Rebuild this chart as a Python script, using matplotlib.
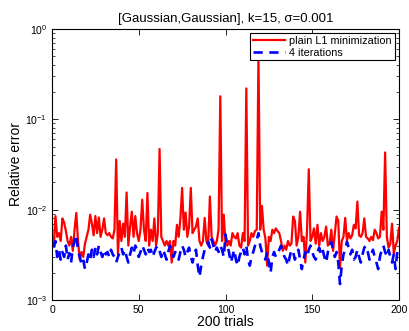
import matplotlib
matplotlib.use("Agg")
import matplotlib.pyplot as plt
import numpy as np

trials = list(range(1, 201))

plain_l1 = [
    0.0040, 0.0085, 0.0050, 0.0055, 0.0045, 0.0080, 0.0072, 0.0058, 0.0045, 0.0040,
    0.0050, 0.0035, 0.0060, 0.0092, 0.0045, 0.0028, 0.0034, 0.0030, 0.0042, 0.0050,
    0.0060, 0.0088, 0.0070, 0.0052, 0.0085, 0.0055, 0.0082, 0.0050, 0.0060, 0.0080,
    0.0055, 0.0052, 0.0055, 0.0050, 0.0048, 0.0060, 0.0360, 0.0032, 0.0075, 0.0045,
    0.0070, 0.0050, 0.0155, 0.0040, 0.0065, 0.0095, 0.0050, 0.0085, 0.0055, 0.0045,
    0.0060, 0.0129, 0.0060, 0.0045, 0.0153, 0.0040, 0.0060, 0.0045, 0.0080, 0.0040,
    0.0055, 0.0470, 0.0050, 0.0045, 0.0040, 0.0045, 0.0040, 0.0045, 0.0026, 0.0045,
    0.0040, 0.0068, 0.0050, 0.0080, 0.0174, 0.0060, 0.0093, 0.0050, 0.0065, 0.0174,
    0.0055, 0.0060, 0.0065, 0.0080, 0.0045, 0.0040, 0.0045, 0.0081, 0.0045, 0.0040,
    0.0140, 0.0050, 0.0045, 0.0040, 0.0045, 0.0060, 0.1800, 0.0045, 0.0088, 0.0042,
    0.0040, 0.0045, 0.0040, 0.0055, 0.0050, 0.0048, 0.0055, 0.0040, 0.0038, 0.0055,
    0.0045, 0.2200, 0.0040, 0.0045, 0.0055, 0.0050, 0.0058, 0.0060, 0.5000, 0.0060,
    0.0110, 0.0060, 0.0048, 0.0024, 0.0050, 0.0045, 0.0060, 0.0055, 0.0062, 0.0058,
    0.0055, 0.0045, 0.0035, 0.0040, 0.0036, 0.0045, 0.0040, 0.0042, 0.0084, 0.0075,
    0.0040, 0.0050, 0.0095, 0.0045, 0.0050, 0.0026, 0.0060, 0.0280, 0.0045, 0.0050,
    0.0062, 0.0042, 0.0068, 0.0040, 0.0055, 0.0045, 0.0050, 0.0065, 0.0040, 0.0042,
    0.0060, 0.0035, 0.0055, 0.0084, 0.0075, 0.0023, 0.0045, 0.0050, 0.0081, 0.0045,
    0.0055, 0.0048, 0.0052, 0.0068, 0.0062, 0.0123, 0.0052, 0.0050, 0.0055, 0.0080,
    0.0050, 0.0048, 0.0045, 0.0050, 0.0046, 0.0060, 0.0055, 0.0048, 0.0050, 0.0095,
    0.0060, 0.0430, 0.0050, 0.0038, 0.0042, 0.0070, 0.0033, 0.0040, 0.0045, 0.0063,
]

iter4 = [
    0.0038, 0.0045, 0.0030, 0.0036, 0.0028, 0.0034, 0.0030, 0.0040, 0.0028, 0.0033,
    0.0026, 0.0038, 0.0045, 0.0053, 0.0035, 0.0030, 0.0025, 0.0028, 0.0022, 0.0026,
    0.0032, 0.0028, 0.0036, 0.0030, 0.0038, 0.0032, 0.0040, 0.0034, 0.0030, 0.0036,
    0.0032, 0.0034, 0.0030, 0.0036, 0.0032, 0.0030, 0.0026, 0.0030, 0.0034, 0.0038,
    0.0032, 0.0036, 0.0030, 0.0026, 0.0032, 0.0038, 0.0033, 0.0040, 0.0036, 0.0030,
    0.0034, 0.0040, 0.0036, 0.0032, 0.0038, 0.0034, 0.0036, 0.0030, 0.0034, 0.0038,
    0.0040, 0.0035, 0.0030, 0.0036, 0.0032, 0.0028, 0.0034, 0.0040, 0.0036, 0.0030,
    0.0034, 0.0032, 0.0028, 0.0034, 0.0040, 0.0036, 0.0030, 0.0034, 0.0038, 0.0030,
    0.0026, 0.0032, 0.0036, 0.0024, 0.0018, 0.0024, 0.0030, 0.0036, 0.0040, 0.0044,
    0.0038, 0.0047, 0.0040, 0.0034, 0.0038, 0.0034, 0.0040, 0.0036, 0.0030, 0.0053,
    0.0040, 0.0034, 0.0026, 0.0030, 0.0036, 0.0028, 0.0024, 0.0030, 0.0034, 0.0038,
    0.0032, 0.0040, 0.0028, 0.0024, 0.0030, 0.0034, 0.0040, 0.0046, 0.0055, 0.0040,
    0.0034, 0.0030, 0.0028, 0.0034, 0.0026, 0.0020, 0.0030, 0.0034, 0.0030, 0.0032,
    0.0036, 0.0040, 0.0034, 0.0030, 0.0028, 0.0024, 0.0030, 0.0036, 0.0034, 0.0028,
    0.0032, 0.0036, 0.0028, 0.0022, 0.0028, 0.0034, 0.0030, 0.0036, 0.0040, 0.0034,
    0.0030, 0.0028, 0.0034, 0.0038, 0.0032, 0.0036, 0.0030, 0.0026, 0.0034, 0.0040,
    0.0044, 0.0036, 0.0030, 0.0034, 0.0026, 0.0015, 0.0024, 0.0032, 0.0036, 0.0044,
    0.0038, 0.0032, 0.0036, 0.0028, 0.0030, 0.0036, 0.0030, 0.0026, 0.0032, 0.0038,
    0.0040, 0.0034, 0.0028, 0.0032, 0.0036, 0.0030, 0.0026, 0.0022, 0.0030, 0.0036,
    0.0040, 0.0034, 0.0030, 0.0036, 0.0030, 0.0026, 0.0032, 0.0022, 0.0034, 0.0040,
]

xticks = [0, 50, 100, 150, 200]
series_labels = ["plain L1 minimization", "4 iterations"]

plt.rcParams['font.family'] = ['Liberation Sans', 'DejaVu Sans']

fig = plt.figure(figsize=(4.09, 3.31), dpi=100)
ax = fig.add_axes([52/409, 1-300/331, 347/409, 271/331])

ax.plot(trials, plain_l1, color='#ff0000', lw=1.6, label=series_labels[0])
ax.plot(trials, iter4, color='#0000ff', lw=1.9, ls=(0, (3.5, 2.5)), label=series_labels[1])

ax.set_yscale('log')
ax.set_xlim(0, 200)
ax.set_ylim(1e-3, 1e0)
ax.set_xticks(xticks)
ax.set_xticklabels([str(v) for v in xticks])
ax.tick_params(which='both', direction='in', top=True, right=True, labelsize=7.5)
ax.tick_params(which='major', length=4, width=0.6)
ax.tick_params(which='minor', length=2, width=0.5)
for s in ax.spines.values():
    s.set_linewidth(0.8)

ax.set_title("[Gaussian,Gaussian], k=15, σ=0.001", fontsize=9.5, pad=5)
ax.set_xlabel("200 trials", fontsize=10, labelpad=0)
ax.set_ylabel("Relative error", fontsize=10, labelpad=2)

leg = ax.legend(loc='upper right', fontsize=7.8, frameon=True, fancybox=False,
                edgecolor='black', framealpha=1, borderaxespad=0.4,
                handlelength=3.0, borderpad=0.25, labelspacing=0.15, handletextpad=0.4)
leg.get_frame().set_linewidth(0.8)

fig.savefig("out.png", dpi=100)
